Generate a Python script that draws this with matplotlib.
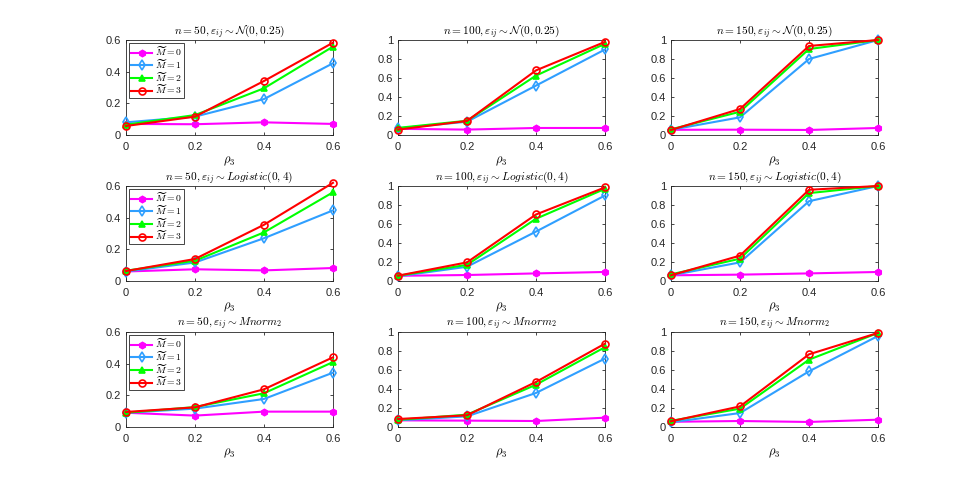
import matplotlib
matplotlib.use('Agg')
import matplotlib.pyplot as plt

plt.rcParams['font.family'] = ['Liberation Sans', 'DejaVu Sans']
plt.rcParams['mathtext.fontset'] = 'cm'

rho = [0, 0.2, 0.4, 0.6]
sizes = [50, 100, 150]
noises = [r'\mathcal{N}(0,0.25)', r'Logistic(0,4)', r'Mnorm_2']

# power[row][col] -> [M0, M1, M2, M3]
power = [
    [  # N(0, 0.25)
        [[0.070, 0.068, 0.080, 0.070],
         [0.080, 0.116, 0.227, 0.453],
         [0.065, 0.126, 0.295, 0.558],
         [0.057, 0.116, 0.341, 0.583]],
        [[0.065, 0.057, 0.074, 0.074],
         [0.070, 0.140, 0.520, 0.900],
         [0.075, 0.150, 0.625, 0.960],
         [0.057, 0.148, 0.680, 0.980]],
        [[0.055, 0.056, 0.053, 0.074],
         [0.055, 0.186, 0.800, 1.000],
         [0.060, 0.245, 0.905, 1.000],
         [0.053, 0.274, 0.937, 1.000]],
    ],
    [  # Logistic(0, 4)
        [[0.060, 0.074, 0.067, 0.082],
         [0.060, 0.117, 0.270, 0.446],
         [0.065, 0.128, 0.307, 0.560],
         [0.063, 0.139, 0.355, 0.620]],
        [[0.055, 0.063, 0.080, 0.095],
         [0.050, 0.150, 0.520, 0.900],
         [0.055, 0.170, 0.655, 0.970],
         [0.056, 0.196, 0.700, 0.985]],
        [[0.060, 0.067, 0.080, 0.095],
         [0.060, 0.196, 0.840, 1.000],
         [0.070, 0.235, 0.925, 1.000],
         [0.060, 0.267, 0.960, 1.000]],
    ],
    [  # Mnorm_2
        [[0.090, 0.072, 0.097, 0.097],
         [0.090, 0.116, 0.177, 0.343],
         [0.090, 0.126, 0.213, 0.410],
         [0.095, 0.124, 0.238, 0.440]],
        [[0.070, 0.067, 0.063, 0.098],
         [0.070, 0.112, 0.358, 0.720],
         [0.075, 0.130, 0.445, 0.840],
         [0.084, 0.123, 0.474, 0.877]],
        [[0.055, 0.063, 0.053, 0.077],
         [0.050, 0.147, 0.586, 0.958],
         [0.065, 0.193, 0.709, 0.990],
         [0.060, 0.217, 0.765, 0.990]],
    ],
]

labels = [r'$\widetilde{M}=0$', r'$\widetilde{M}=1$', r'$\widetilde{M}=2$', r'$\widetilde{M}=3$']
colors = ['#ff00ff', '#2f9fff', '#00ff00', '#ff0000']
markers = ['h', 'd', '^', 'o']
filled = [True, False, True, False]

fig = plt.figure(figsize=(9.69, 4.86), dpi=100)
lefts = [0.130, 0.4107, 0.6925]
bottoms = [0.7222, 0.4218, 0.1214]
w, h = 0.2136, 0.1955

for r in range(3):
    for c in range(3):
        ax = fig.add_axes([lefts[c], bottoms[r], w, h])
        for k in range(4):
            face = colors[k] if filled[k] else 'none'
            ax.plot(rho, power[r][c][k], color=colors[k], lw=1.5,
                    marker=markers[k], ms=5 if k != 0 else 4.5,
                    mfc=face, mec=colors[k], mew=1.2, label=labels[k],
                    clip_on=False, zorder=3)
        ax.set_xlim(0, 0.6)
        ax.set_xticks(rho)
        ax.set_xticklabels(['0', '0.2', '0.4', '0.6'])
        if c == 0:
            ax.set_ylim(0, 0.6)
            ax.set_yticks([0, 0.2, 0.4, 0.6])
            ax.set_yticklabels(['0', '0.2', '0.4', '0.6'])
        else:
            ax.set_ylim(0, 1)
            ax.set_yticks([0, 0.2, 0.4, 0.6, 0.8, 1])
            ax.set_yticklabels(['0', '0.2', '0.4', '0.6', '0.8', '1'])
        ax.tick_params(direction='in', length=2.5, width=0.6, labelsize=8,
                       colors='#262626', top=True, right=True)
        ax.tick_params(axis='x', pad=5)
        for s in ax.spines.values():
            s.set_color('#262626')
            s.set_linewidth(0.6)
        ax.set_title(r'$n=%d,\varepsilon_{ij}\sim %s$' % (sizes[c], noises[r]),
                     fontsize=8.2, pad=4)
        ax.set_xlabel(r'$\rho_3$', fontsize=9, labelpad=2)
        if c == 0:
            leg = ax.legend(loc='upper left', fontsize=7, fancybox=False,
                            framealpha=1, edgecolor='#262626', handlelength=2.2,
                            borderpad=0.2, labelspacing=-0.05, handletextpad=0.3,
                            borderaxespad=0.3)
            leg.get_frame().set_linewidth(0.6)
            leg.set_zorder(5)

fig.savefig('out.png', dpi=100)
